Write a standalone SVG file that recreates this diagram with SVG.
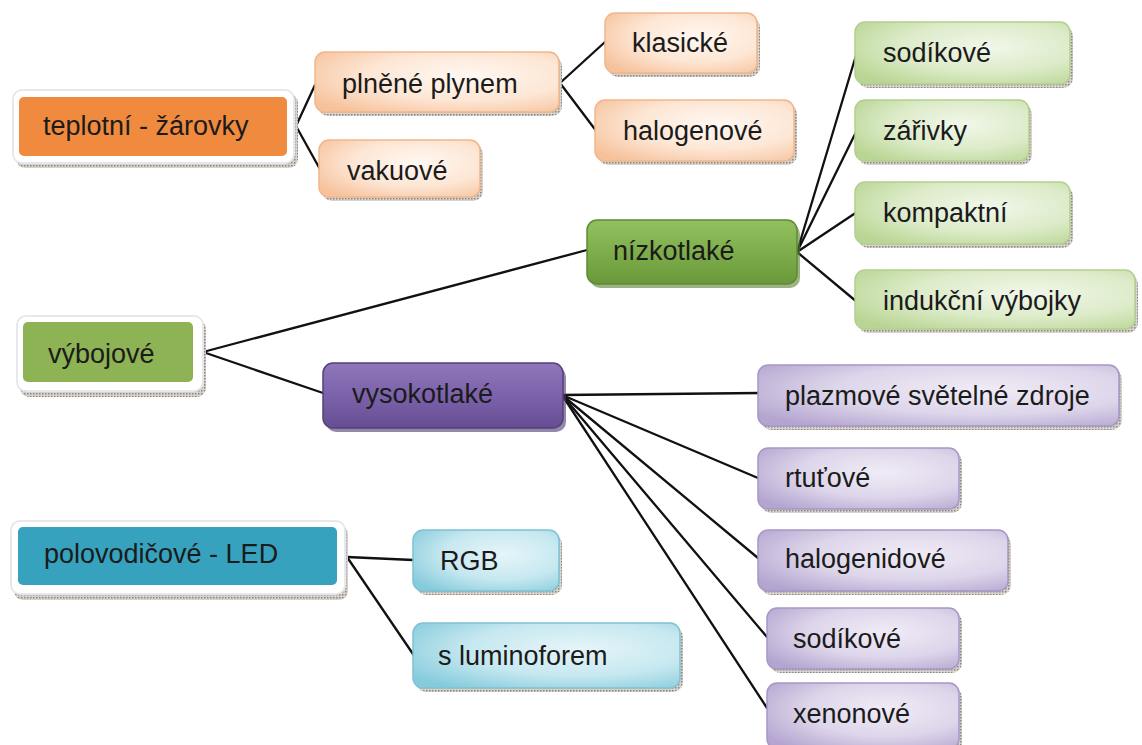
<svg xmlns="http://www.w3.org/2000/svg" width="1142" height="745" viewBox="0 0 1142 745">
<defs>
<style>
text{font-family:"Liberation Sans",Arial,sans-serif;font-size:27px;fill:#1b1b1b}
.ln{stroke:#111;stroke-width:2.3;fill:none;stroke-linecap:round}
.sh{fill:url(#dots)}
.halo{fill:#fff;stroke:#e6e8ee;stroke-width:2}
.lo{fill:url(#gO);stroke:#f2b68a;stroke-width:1.5}
.lg{fill:url(#gG);stroke:#b3cf8e;stroke-width:1.5}
.lp{fill:url(#gP);stroke:#a797c6;stroke-width:1.5}
.lc{fill:url(#gC);stroke:#7fc2d4;stroke-width:1.5}
</style>
<pattern id="dots" width="3" height="3" patternUnits="userSpaceOnUse">
<rect width="3" height="3" fill="#d8d2cc"/>
<rect width="1.5" height="1.5" fill="#8d8680"/>
</pattern>
<radialGradient id="gO" cx="0.62" cy="0.4" r="0.75"><stop offset="0" stop-color="#fff8f2"/><stop offset="0.55" stop-color="#fde6d4"/><stop offset="1" stop-color="#f6c29c"/></radialGradient>
<radialGradient id="gG" cx="0.62" cy="0.4" r="0.75"><stop offset="0" stop-color="#f1f7ea"/><stop offset="0.55" stop-color="#dcebc8"/><stop offset="1" stop-color="#b9d593"/></radialGradient>
<radialGradient id="gP" cx="0.62" cy="0.4" r="0.75"><stop offset="0" stop-color="#f0ecf6"/><stop offset="0.55" stop-color="#ddd5ea"/><stop offset="1" stop-color="#b4a5d0"/></radialGradient>
<radialGradient id="gC" cx="0.62" cy="0.4" r="0.75"><stop offset="0" stop-color="#e6f5f9"/><stop offset="0.55" stop-color="#c6e8f0"/><stop offset="1" stop-color="#86cbdc"/></radialGradient>
<linearGradient id="gDG" x1="0" y1="0" x2="0" y2="1"><stop offset="0" stop-color="#92c060"/><stop offset="0.5" stop-color="#7eae4b"/><stop offset="1" stop-color="#6a983b"/></linearGradient>
<linearGradient id="gDP" x1="0" y1="0" x2="0" y2="1"><stop offset="0" stop-color="#9077bb"/><stop offset="0.5" stop-color="#7c62aa"/><stop offset="1" stop-color="#664d93"/></linearGradient>
</defs>
<rect width="1142" height="745" fill="#fff"/>

<g id="connectors">
<line class="ln" x1="296" y1="126" x2="315" y2="85"/>
<line class="ln" x1="296" y1="126" x2="321" y2="171"/>
<line class="ln" x1="560" y1="83" x2="605" y2="42"/>
<line class="ln" x1="560" y1="83" x2="597" y2="132"/>
<line class="ln" x1="203" y1="352" x2="587" y2="250"/>
<line class="ln" x1="203" y1="352" x2="323" y2="393"/>
<line class="ln" x1="797" y1="252" x2="857" y2="52"/>
<line class="ln" x1="797" y1="252" x2="857" y2="130"/>
<line class="ln" x1="797" y1="252" x2="857" y2="212"/>
<line class="ln" x1="797" y1="252" x2="857" y2="302"/>
<line class="ln" x1="562" y1="395" x2="760" y2="393"/>
<line class="ln" x1="562" y1="395" x2="758" y2="478"/>
<line class="ln" x1="562" y1="395" x2="758" y2="558"/>
<line class="ln" x1="562" y1="395" x2="767" y2="637"/>
<line class="ln" x1="562" y1="395" x2="767" y2="708"/>
<line class="ln" x1="347" y1="557" x2="413" y2="560"/>
<line class="ln" x1="347" y1="557" x2="415" y2="657"/>
</g>

<g id="node-teplotni">
<rect class="sh" x="16" y="94" width="282" height="74" rx="9"/>
<rect class="halo" x="13" y="90" width="281" height="73" rx="9"/>
<rect x="19" y="97" width="268" height="59" rx="5" fill="#ef8a3f"/>
<text x="43" y="135">teplotní - žárovky</text>
</g>
<g id="node-plnene">
<rect class="sh" x="318" y="56" width="244" height="60" rx="10"/>
<rect class="lo" x="315" y="52" width="244" height="60" rx="10"/>
<text x="342" y="93">plněné plynem</text>
</g>
<g id="node-vakuove">
<rect class="sh" x="322" y="144" width="161" height="57" rx="10"/>
<rect class="lo" x="319" y="140" width="161" height="57" rx="10"/>
<text x="347" y="180">vakuové</text>
</g>
<g id="node-klasicke">
<rect class="sh" x="608" y="17" width="152" height="60" rx="10"/>
<rect class="lo" x="605" y="13" width="152" height="60" rx="10"/>
<text x="632" y="52">klasické</text>
</g>
<g id="node-halogenove">
<rect class="sh" x="598" y="104" width="199" height="61" rx="10"/>
<rect class="lo" x="595" y="100" width="199" height="61" rx="10"/>
<text x="623" y="140">halogenové</text>
</g>

<g id="node-vybojove">
<rect class="sh" x="20" y="320" width="186" height="77" rx="9"/>
<rect class="halo" x="17" y="316" width="186" height="75" rx="9"/>
<rect x="23" y="322" width="170" height="60" rx="5" fill="#8db354"/>
<text x="48" y="363">výbojové</text>
</g>
<g id="node-nizkotlake">
<rect x="590" y="224" width="210" height="64" rx="10" fill="#5b7f34" opacity="0.6"/>
<rect x="587" y="220" width="210" height="64" rx="10" fill="url(#gDG)" stroke="#5e8a34" stroke-width="1.5"/>
<text x="613" y="260">nízkotlaké</text>
</g>
<g id="node-vysokotlake">
<rect x="326" y="367" width="240" height="65" rx="10" fill="#4a3870" opacity="0.6"/>
<rect x="323" y="363" width="240" height="65" rx="10" fill="url(#gDP)" stroke="#54407a" stroke-width="1.5"/>
<text x="352" y="403">vysokotlaké</text>
</g>

<g id="node-sodikove-n">
<rect class="sh" x="858" y="26" width="215" height="62" rx="10"/>
<rect class="lg" x="855" y="22" width="215" height="62" rx="10"/>
<text x="883" y="62">sodíkové</text>
</g>
<g id="node-zarivky">
<rect class="sh" x="858" y="104" width="174" height="61" rx="10"/>
<rect class="lg" x="855" y="100" width="174" height="61" rx="10"/>
<text x="883" y="140">zářivky</text>
</g>
<g id="node-kompaktni">
<rect class="sh" x="858" y="186" width="215" height="62" rx="10"/>
<rect class="lg" x="855" y="182" width="215" height="62" rx="10"/>
<text x="883" y="222">kompaktní</text>
</g>
<g id="node-indukcni">
<rect class="sh" x="858" y="274" width="280" height="59" rx="10"/>
<rect class="lg" x="855" y="270" width="280" height="59" rx="10"/>
<text x="883" y="310">indukční výbojky</text>
</g>

<g id="node-plazmove">
<rect class="sh" x="761" y="369" width="361" height="61" rx="10"/>
<rect class="lp" x="758" y="365" width="361" height="61" rx="10"/>
<text x="785" y="405">plazmové světelné zdroje</text>
</g>
<g id="node-rtutove">
<rect class="sh" x="761" y="452" width="201" height="61" rx="10"/>
<rect class="lp" x="758" y="448" width="201" height="61" rx="10"/>
<text x="785" y="487">rtuťové</text>
</g>
<g id="node-halogenidove">
<rect class="sh" x="761" y="534" width="250" height="61" rx="10"/>
<rect class="lp" x="758" y="530" width="250" height="61" rx="10"/>
<text x="785" y="568">halogenidové</text>
</g>
<g id="node-sodikove-v">
<rect class="sh" x="770" y="612" width="192" height="61" rx="10"/>
<rect class="lp" x="767" y="608" width="192" height="61" rx="10"/>
<text x="793" y="648">sodíkové</text>
</g>
<g id="node-xenonove">
<rect class="sh" x="770" y="687" width="192" height="66" rx="10"/>
<rect class="lp" x="767" y="683" width="192" height="66" rx="10"/>
<text x="793" y="723">xenonové</text>
</g>

<g id="node-polovodicove">
<rect class="sh" x="14" y="525" width="334" height="75" rx="9"/>
<rect class="halo" x="11" y="521" width="334" height="73" rx="9"/>
<rect x="18" y="527" width="319" height="58" rx="5" fill="#36a2be"/>
<text x="44" y="563">polovodičové - LED</text>
</g>
<g id="node-rgb">
<rect class="sh" x="416" y="534" width="146" height="61" rx="10"/>
<rect class="lc" x="413" y="530" width="146" height="61" rx="10"/>
<text x="440" y="570">RGB</text>
</g>
<g id="node-luminofor">
<rect class="sh" x="416" y="627" width="267" height="65" rx="10"/>
<rect class="lc" x="413" y="623" width="267" height="65" rx="10"/>
<text x="438" y="665">s luminoforem</text>
</g>
</svg>
